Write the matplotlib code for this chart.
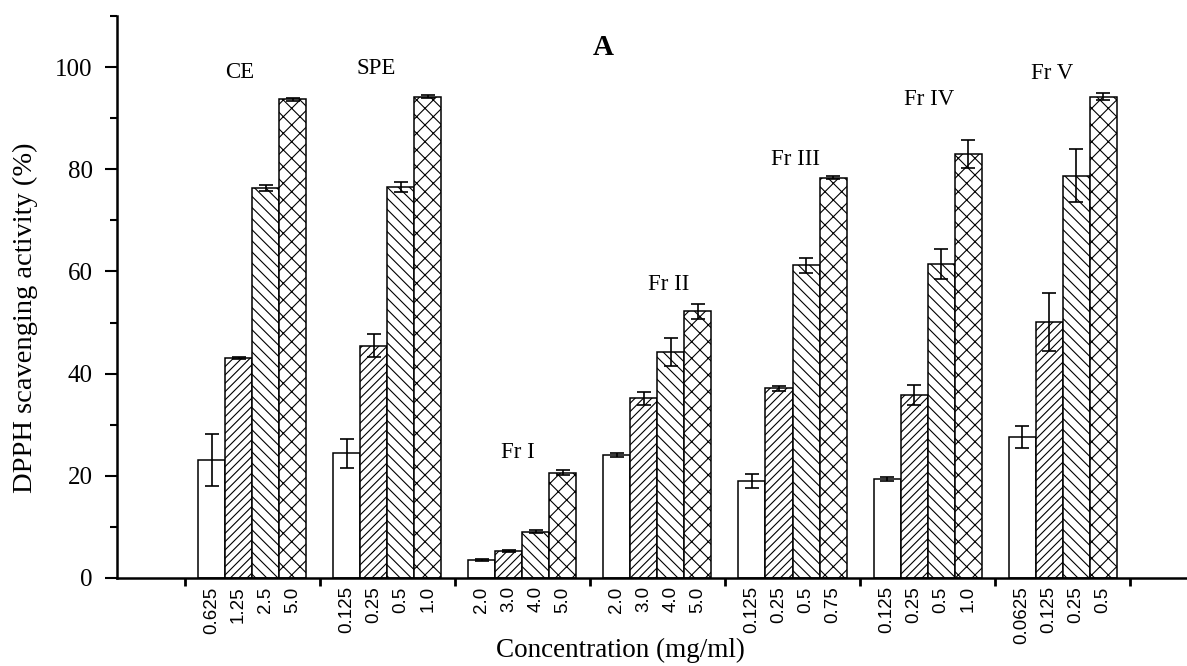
import matplotlib
matplotlib.use("Agg")
import matplotlib.pyplot as plt
import numpy as np

# ---------------- data ----------------
groups = ["CE", "SPE", "Fr I", "Fr II", "Fr III", "Fr IV", "Fr V"]
conc_labels = [
    ["0.625", "1.25", "2.5", "5.0"],
    ["0.125", "0.25", "0.5", "1.0"],
    ["2.0", "3.0", "4.0", "5.0"],
    ["2.0", "3.0", "4.0", "5.0"],
    ["0.125", "0.25", "0.5", "0.75"],
    ["0.125", "0.25", "0.5", "1.0"],
    ["0.0625", "0.125", "0.25", "0.5"],
]
# values per concentration level (level 1..4) across groups
level1 = [23.1, 24.4, 3.5, 24.1, 19.0, 19.3, 27.6]
level2 = [43.0, 45.5, 5.3, 35.2, 37.1, 35.8, 50.1]
level3 = [76.3, 76.6, 9.1, 44.2, 61.2, 61.4, 78.7]
level4 = [93.7, 94.2, 20.6, 52.2, 78.3, 83.0, 94.2]
err1 = [5.0, 2.9, 0.2, 0.4, 1.4, 0.4, 2.2]
err2 = [0.2, 2.3, 0.2, 1.3, 0.5, 2.0, 5.7]
err3 = [0.65, 1.0, 0.3, 2.8, 1.5, 2.9, 5.2]
err4 = [0.3, 0.3, 0.5, 1.5, 0.3, 2.7, 0.7]

# group label positions (data coords)
label_x = [-0.09, 0.915, 1.97, 3.08, 4.02, 5.01, 5.92]
label_y = [99.0, 99.8, 24.6, 57.4, 82.0, 93.7, 98.8]

# ---------------- style ----------------
plt.rcParams['font.family'] = ['Liberation Serif', 'DejaVu Serif']
plt.rcParams['hatch.linewidth'] = 0.8

fig = plt.figure(figsize=(11.87, 6.66), dpi=100)
ax = fig.add_axes([117 / 1187, 1 - 578 / 666, 1 - 117 / 1187, (578 - 16) / 666])

x = np.arange(len(groups))
width = 0.2
levels = [level1, level2, level3, level4]
errs = [err1, err2, err3, err4]
hatches = [None, "////", "\\\\\\", "xx"]
offsets = [-0.3, -0.1, 0.1, 0.3]

for lv, er, h, off in zip(levels, errs, hatches, offsets):
    ax.bar(x + off, lv, width=width, color="white", edgecolor="black",
           linewidth=1.1, hatch=h, zorder=2)
    ax.errorbar(x + off, lv, yerr=er, fmt="none", ecolor="black",
                elinewidth=1.2, capsize=5, capthick=1.2, zorder=3)

ax.set_xlim(-1.0, 6.92)
ax.set_ylim(0, 110)

# spines
for s in ["top", "right"]:
    ax.spines[s].set_visible(False)
for s in ["left", "bottom"]:
    ax.spines[s].set_linewidth(1.8)

# y ticks
ax.set_yticks([0, 20, 40, 60, 80, 100])
ax.set_yticks([10, 30, 50, 70, 90, 110], minor=True)
ax.tick_params(axis="y", which="major", direction="out", length=8.5, width=1.5,
               labelsize=18, pad=9)
ax.tick_params(axis="y", which="minor", direction="out", length=5, width=1.5)

# x ticks: major at group boundaries, minor labelled at bars
ax.set_xticks(list(x - 0.5) + [x[-1] + 0.5])
ax.set_xticklabels([])
bar_pos = []
bar_lab = []
for i in range(len(groups)):
    for j, off in enumerate(offsets):
        bar_pos.append(x[i] + off)
        bar_lab.append(conc_labels[i][j])
ax.set_xticks(bar_pos, minor=True)
ax.set_xticklabels(bar_lab, minor=True, rotation=90,
                   family=['Liberation Sans Narrow', 'Liberation Sans', 'DejaVu Sans'],
                   fontsize=13.5)
ax.tick_params(axis="x", which="major", direction="out", length=6, width=2)
ax.tick_params(axis="x", which="minor", length=0, pad=6)

# group labels
for gx, gy, g in zip(label_x, label_y, groups):
    ax.text(gx, gy, g, ha="center", va="center", fontsize=16.5)
ax.text(2.60, 103.9, "A", ha="center", va="center", fontsize=21, fontweight="bold")

# axis titles
fig.text(25 / 1187, 1 - 318 / 666, "DPPH scavenging activity (%)", rotation=90,
         ha="center", va="center", fontsize=20.5)
fig.text(620 / 1187, 1 - 650 / 666, "Concentration (mg/ml)", ha="center",
         va="center", fontsize=19.5)

fig.savefig("out.png", dpi=100)
